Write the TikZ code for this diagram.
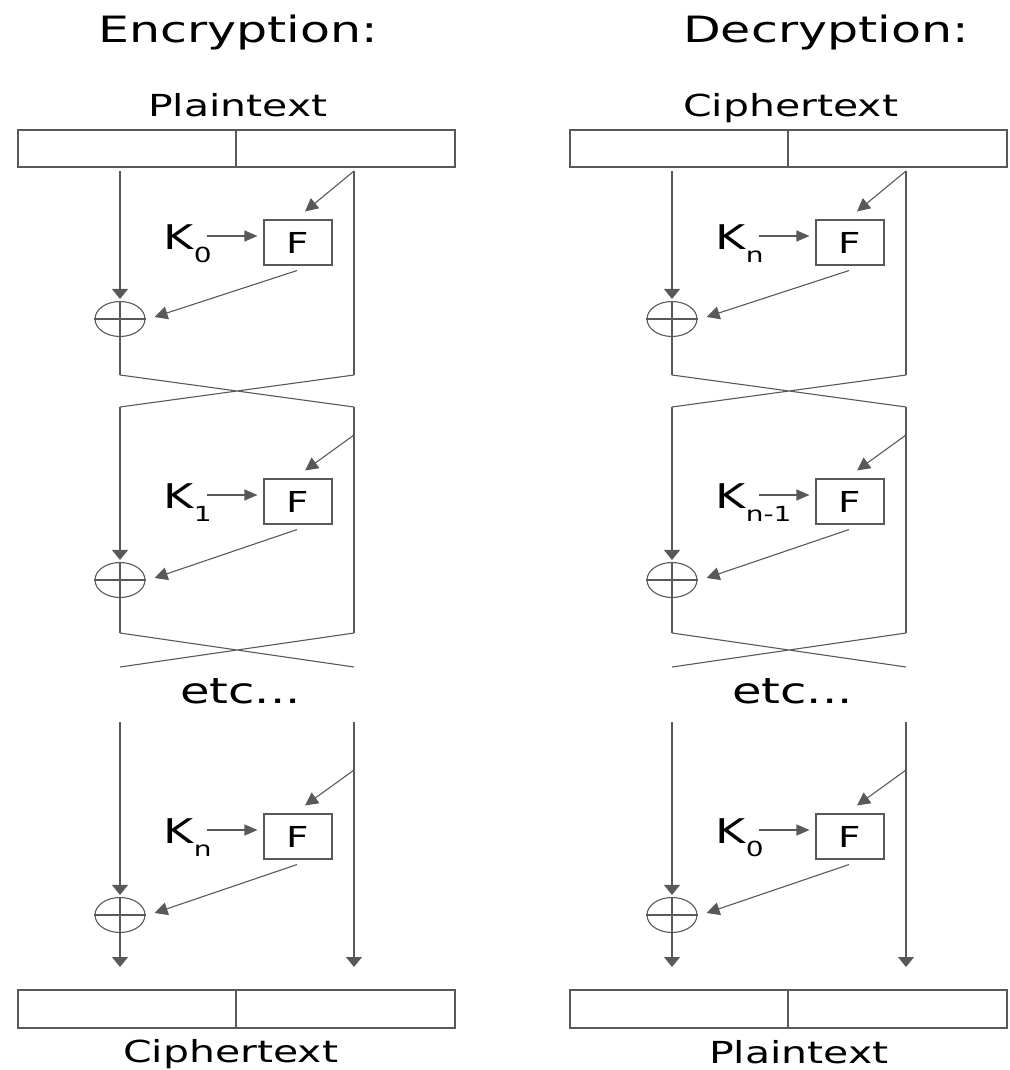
\documentclass[tikz,border=0pt]{standalone}
\usepackage{graphicx}
\usepackage{fontspec}
\setmainfont{DejaVu Sans}
\usetikzlibrary{arrows.meta,calc,shapes.geometric}
\newcommand{\vsq}[2]{\scalebox{1}[0.74]{\fontsize{#1}{#1}\selectfont #2}}
\begin{document}
\begin{tikzpicture}[x=1pt,y=-1pt,
  ln/.style={draw=black!65, line width=1.1pt},
  half/.style={ln, rectangle, minimum height=37pt, inner sep=0pt},
  fbox/.style={ln, rectangle, minimum width=68pt, minimum height=45pt, inner sep=0pt},
  xorn/.style={ln, ellipse, minimum width=50pt, minimum height=35pt, inner sep=0pt},
  txt/.style={anchor=base west, inner sep=0pt, text=black},
  vtip/.style={ln, -{Triangle[length=10pt,width=16pt]}},
  htip/.style={ln, -{Triangle[length=13pt,width=11pt]}},
  dtip/.style={ln, -{Triangle[length=13pt,width=13pt]}},
]
\useasboundingbox (0,0) rectangle (1009,1070);

\node[txt] (enc) at (98,43) {\vsq{49}{Encryption:}};
\node[txt] (dec) at (683,43) {\vsq{49}{Decryption:}};
\node[txt] (pt1) at (148,117) {\vsq{41}{Plaintext}};
\node[txt] (ct1) at (683,117) {\vsq{41}{Ciphertext}};
\node[txt] (ct2) at (123,1062) {\vsq{41}{Ciphertext}};
\node[txt] (pt2) at (709,1063) {\vsq{41}{Plaintext}};
\node[txt] (etc1) at (180,703) {\vsq{48}{etc...}};
\node[txt] (etc2) at (732,703) {\vsq{48}{etc...}};

\foreach \d/\c/\ka/\kb/\kc in {0/E/0/1/n,552/D/n/n-1/0}{
  \node[half, minimum width=218pt] (tl\c) at (127+\d,148.5) {};
  \node[half, minimum width=219pt] (tr\c) at (345.5+\d,148.5) {};
  \node[half, minimum width=218pt, minimum height=38pt] (bl\c) at (127+\d,1009) {};
  \node[half, minimum width=219pt, minimum height=38pt] (br\c) at (345.5+\d,1009) {};
  \foreach \r/\ys/\yr/\fy/\xy/\ye/\k in {1/171/171/242.5/319/375/\ka, 2/407/435/501.5/580/633/\kb, 3/722/770/836.5/915/967/\kc}{
    \coordinate (Ls\r\c) at (120+\d,\ys);
    \coordinate (Rs\r\c) at (354+\d,\ys);
    \coordinate (Le\r\c) at (120+\d,\ye);
    \coordinate (Re\r\c) at (354+\d,\ye);
    \coordinate (Ra\r\c) at (354+\d,\yr);
    \node[fbox] (F\r\c) at (298+\d,\fy) {\vsq{39}{F}};
    \node[xorn] (X\r\c) at (120+\d,\xy) {};
    \node[txt] (K\r\c) at (163.5+\d,\fy+7) {\vsq{46}{K}\raisebox{-13pt}{\vsq{28}{\k}}};
    \coordinate (Ka\r\c) at (207+\d,\fy-6.5);
    \draw[ln] (X\r\c.west) -- (X\r\c.east) (X\r\c.north) -- (X\r\c.south);
    \draw[vtip, shorten >=2pt] (Ls\r\c) -- (X\r\c.north);
    \ifnum\r=3
      \draw[vtip] (X\r\c.south) -- (Le\r\c);
      \draw[vtip] (Rs\r\c) -- (Re\r\c);
    \else
      \draw[ln] (X\r\c.south) -- (Le\r\c);
      \draw[ln] (Rs\r\c) -- (Re\r\c);
    \fi
    \draw[dtip] (Ra\r\c) -- ($(F\r\c.north)+(7,-8)$);
    \draw[htip] (Ka\r\c) -- ($(Ka\r\c -| F\r\c.west)+(-6,0)$);
    \draw[dtip] ($(F\r\c.south)+(-1,5)$) -- ($(X\r\c.east)+(9,-2)$);
  }
  \coordinate (Lc\c) at (120+\d,667);
  \coordinate (Rc\c) at (354+\d,667);
  \draw[ln] (Le1\c) -- (Rs2\c) (Re1\c) -- (Ls2\c);
  \draw[ln] (Le2\c) -- (Rc\c) (Re2\c) -- (Lc\c);
}
\end{tikzpicture}
\end{document}
